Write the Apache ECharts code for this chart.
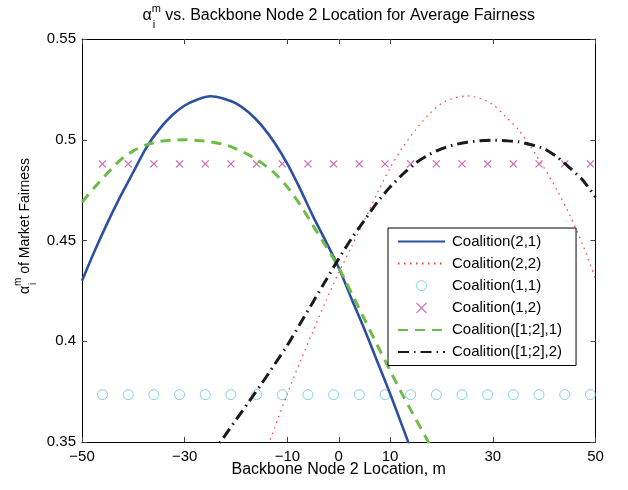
<!DOCTYPE html>
<html><head><meta charset="utf-8">
<script src="https://cdn.jsdelivr.net/npm/echarts@6/dist/echarts.min.js"></script>
<style>html,body{margin:0;padding:0;background:#fff}#c{width:628px;height:490px}</style>
</head><body><div id="c"></div>
<script>
// ---------- data ----------
const xTicks = [-50, -30, -10, 0, 10, 30, 50];
const yTicks = [0.35, 0.4, 0.45, 0.5, 0.55];
const seriesNames = ['Coalition(2,1)', 'Coalition(2,2)', 'Coalition(1,1)', 'Coalition(1,2)', 'Coalition([1;2],1)', 'Coalition([1;2],2)'];
const xs = [-50, -47.5, -45, -42.5, -40, -37.5, -35, -32.5, -30, -27.5, -25, -22.5, -20, -17.5, -15, -12.5, -10, -7.5, -5, -2.5,
            0, 2.5, 5, 7.5, 10, 12.5, 15, 17.5, 20, 22.5, 25, 27.5, 30, 32.5, 35, 37.5, 40, 42.5, 45, 47.5, 50];
const coal21 = [0.430, 0.445, 0.459, 0.472, 0.484, 0.496, 0.505, 0.512, 0.517, 0.520, 0.5216, 0.5205, 0.518, 0.5135, 0.507, 0.4985, 0.488, 0.4755, 0.462, 0.4495,
                0.4365, 0.421, 0.406, 0.390, 0.374, 0.357, 0.340, null, null, null, null, null, null, null, null, null, null, null, null, null, null];
const coal22 = [null, null, null, null, null, null, null, null, null, null, null, null, null, null, 0.340, 0.357, 0.374, 0.390, 0.405, 0.420,
                0.434, 0.447, 0.460, 0.4735, 0.486, 0.4965, 0.505, 0.5125, 0.518, 0.5208, 0.5218, 0.5205, 0.5175, 0.5115, 0.505, 0.496, 0.486, 0.475, 0.4625, 0.448, 0.431];
const coal121 = [0.469, 0.4765, 0.4835, 0.490, 0.4945, 0.4975, 0.4991, 0.4998, 0.5, 0.4996, 0.499, 0.4978, 0.4955, 0.4925, 0.4885, 0.4835, 0.4765, 0.4677, 0.4574, 0.4472,
                 0.4366, 0.4238, 0.411, 0.398, 0.3855, 0.373, 0.3614, 0.3498, 0.338, null, null, null, null, null, null, null, null, null, null, null, null];
const coal122 = [null, null, null, null, null, null, null, null, null, null, 0.343, 0.352, 0.361, 0.370, 0.379, 0.3885, 0.398, 0.4088, 0.4195, 0.4303,
                 0.441, 0.451, 0.460, 0.469, 0.4765, 0.483, 0.4885, 0.4925, 0.4955, 0.4975, 0.4988, 0.4995, 0.4998, 0.4995, 0.499, 0.4975, 0.4955, 0.4915, 0.486, 0.480, 0.4715];
const markerX = [-46, -41, -36, -31, -26, -21, -16, -11, -6, -1, 4, 9, 14, 19, 24, 29, 34, 39, 44, 49];
const coal11 = [0.3735, 0.3735, 0.3735, 0.3735, 0.3735, 0.3735, 0.3735, 0.3735, 0.3735, 0.3735, 0.3735, 0.3735, 0.3735, 0.3735, 0.3735, 0.3735, 0.3735, 0.3735, 0.3735, 0.3735];
const coal12 = [0.488, 0.488, 0.488, 0.488, 0.488, 0.488, 0.488, 0.488, 0.488, 0.488, 0.488, 0.488, 0.488, 0.488, 0.488, 0.488, 0.488, 0.488, 0.488, 0.488];

// ---------- helpers ----------
const FF = '"Liberation Sans", Arial, Helvetica, sans-serif';
const pairs = (xv, yv) => xv.map((x, i) => (yv[i] == null ? null : [x, yv[i]])).filter(p => p);
const ctx = document.createElement('canvas').getContext('2d');
function tw(s, size) { ctx.font = size + 'px ' + FF; return ctx.measureText(s).width; }

const C_BLUE = '#2d4fa1', C_RED = '#ff3b3b', C_CYAN = '#62c6df', C_MAG = '#c23fa0', C_GREEN = '#6cbd45', C_BLACK = '#1a1a1a';

// ---------- title & y label (with sub/superscripts) ----------
const FS = 15, TS = 16, YS = 14, SS = 11;
const plotCX = 338.7;
const titleMain = ' vs. Backbone Node 2 Location for Average Fairness';
const wa = tw('\u03b1', TS), wm = tw('m', SS), wt = tw(titleMain, TS);
const tx0 = plotCX - (wa + wm + wt) / 2, ty = 15.5;
const ylMain = ' of Market Fairness';
const wya = tw('\u03b1', YS), wym = tw('m', SS - 1), wy = tw(ylMain, YS);
const ylCY = 226, ylX = 25;
const yb = ylCY + (wya + wym + wy) / 2;
const txt = (s, size, x, y, rot) => ({
  type: 'text', x: x, y: y, rotation: rot || 0, z: 10,
  style: { text: s, fontSize: size, fontFamily: FF, fill: '#000', align: 'left', verticalAlign: 'middle' }
});
const graphic = [
  txt('\u03b1', TS, tx0, ty),
  txt('m', SS, tx0 + wa, ty - 7),
  txt('i', SS, tx0 + wa + 1, ty + 9),
  txt(titleMain, TS, tx0 + wa + wm, ty),
  txt('\u03b1', YS, ylX, yb, Math.PI / 2),
  txt('m', SS - 1, ylX - 7, yb - wya, Math.PI / 2),
  txt('i', SS - 1, ylX + 8, yb - wya - 1, Math.PI / 2),
  txt(ylMain, YS, ylX, yb - wya - wym, Math.PI / 2),
  txt('Backbone Node 2 Location, m', TS, plotCX, 470)
];
graphic[graphic.length - 1].style.align = 'center';

// ---------- axes ----------
const axisCommon = {
  type: 'value',
  axisLine: { show: true, onZero: false, lineStyle: { color: '#000', width: 1 } },
  splitLine: { show: false },
};
const xAxis = [
  Object.assign({}, axisCommon, {
    position: 'bottom', min: -50, max: 50,
    axisTick: { show: true, inside: true, length: 5, customValues: xTicks, lineStyle: { color: '#444' } },
    axisLabel: { customValues: xTicks, color: '#000', fontSize: FS, fontFamily: FF, margin: 7,
                 formatter: v => String(v).replace('-', '\u2212') }
  }),
  Object.assign({}, axisCommon, {
    position: 'top', min: -50, max: 50,
    axisTick: { show: true, inside: true, length: 5, customValues: xTicks, lineStyle: { color: '#444' } },
    axisLabel: { show: false }
  })
];
const yAxis = [
  Object.assign({}, axisCommon, {
    position: 'left', min: 0.35, max: 0.55, interval: 0.05,
    axisTick: { show: true, inside: true, length: 5, customValues: yTicks, lineStyle: { color: '#444' } },
    axisLabel: { customValues: yTicks, color: '#000', fontSize: FS, fontFamily: FF, margin: 6,
                 formatter: v => String(+v.toFixed(2)) }
  }),
  Object.assign({}, axisCommon, {
    position: 'right', min: 0.35, max: 0.55, interval: 0.05,
    axisTick: { show: true, inside: true, length: 5, customValues: yTicks, lineStyle: { color: '#444' } },
    axisLabel: { show: false }
  })
];

const lineSeries = (name, xv, yv, color, width, dash, z) => ({
  name: name, type: 'line', data: pairs(xv, yv), symbol: 'circle', showSymbol: false, clip: true, z: z,
  smooth: 0.25,
  lineStyle: { color: color, width: width, type: dash || 'solid', cap: 'butt' },
  itemStyle: { color: color }, emphasis: { disabled: true }
});
const hideSym = { color: 'transparent', borderColor: 'transparent', borderWidth: 0 };

const chart = echarts.init(document.getElementById('c'), null, { renderer: 'canvas' });
chart.setOption({
  animation: false,
  backgroundColor: '#fff',
  grid: { left: 82, right: 32.5, top: 39, bottom: 48, containLabel: false },
  xAxis: xAxis,
  yAxis: yAxis,
  graphic: graphic,
  legend: {
    orient: 'vertical', left: 388, top: 228,
    padding: [6, 14, 6, 9], itemWidth: 47, itemHeight: 10, itemGap: 7.1,
    borderColor: '#000', borderWidth: 1, backgroundColor: '#fff',
    textStyle: { fontSize: FS, color: '#000', fontFamily: FF, padding: [0, 0, 0, 2] },
    data: [
      { name: seriesNames[0], itemStyle: hideSym },
      { name: seriesNames[1], itemStyle: hideSym },
      { name: seriesNames[2], itemStyle: { color: 'transparent', borderColor: C_CYAN, borderWidth: 1 } },
      { name: seriesNames[3], itemStyle: { color: 'transparent', borderColor: C_MAG, borderWidth: 1.2 } },
      { name: seriesNames[4], itemStyle: hideSym },
      { name: seriesNames[5], itemStyle: hideSym }
    ]
  },
  series: [
    lineSeries(seriesNames[0], xs, coal21, C_BLUE, 2.6, 'solid', 3),
    lineSeries(seriesNames[1], xs, coal22, C_RED, 1.2, [1.5, 4.5], 3),
    {
      name: seriesNames[2], type: 'scatter', data: pairs(markerX, coal11), symbol: 'circle', symbolSize: 10,
      itemStyle: { color: 'transparent', borderColor: C_CYAN, borderWidth: 1 }, emphasis: { disabled: true }, z: 2
    },
    {
      name: seriesNames[3], type: 'scatter', data: pairs(markerX, coal12), symbol: 'path://M0,0L10,10M10,0L0,10', symbolSize: 7,
      itemStyle: { color: 'transparent', borderColor: C_MAG, borderWidth: 1.2 }, emphasis: { disabled: true }, z: 2
    },
    lineSeries(seriesNames[4], xs, coal121, C_GREEN, 3, [10, 7], 3),
    lineSeries(seriesNames[5], xs, coal122, C_BLACK, 3, [11, 5, 1.5, 5], 3)
  ]
});
</script></body></html>
